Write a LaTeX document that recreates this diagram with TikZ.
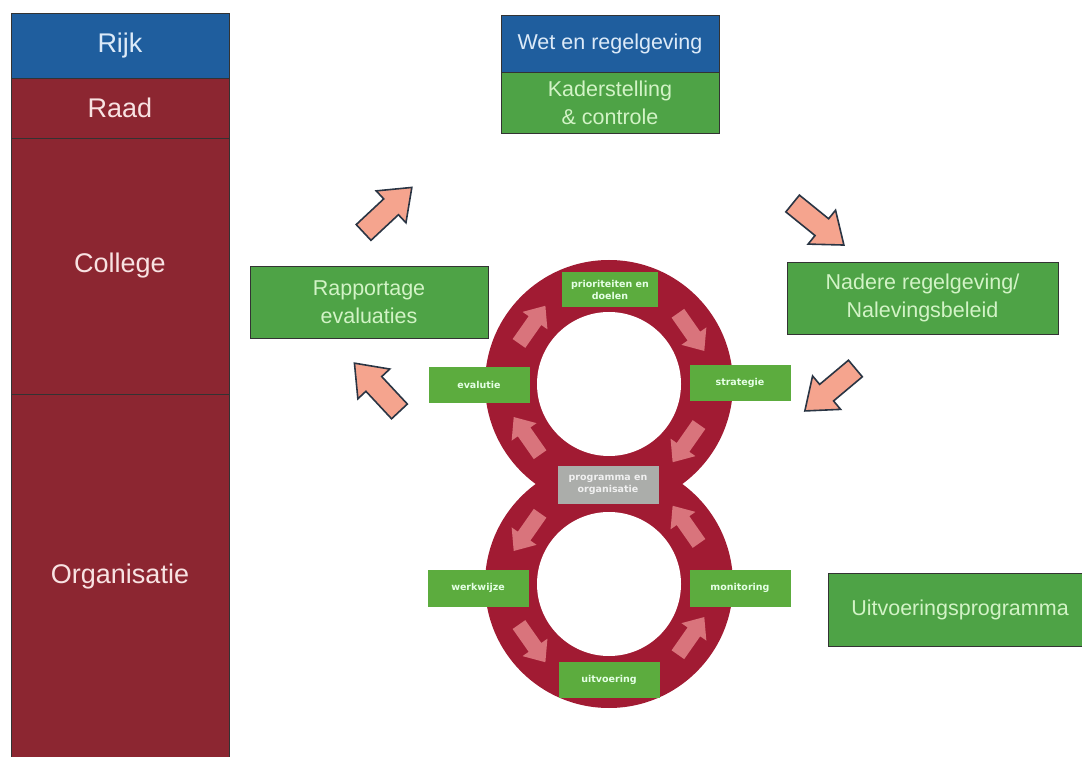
\documentclass[tikz,border=0pt]{standalone}
\usepackage{xcolor}
\usepackage{fontspec}
\setmainfont{Liberation Sans}
\newfontfamily\stepfont{DejaVu Sans}
\usepackage{tikz}
\usetikzlibrary{shapes.arrows, positioning, calc}
\definecolor{rijkblue}{HTML}{1F5E9E}
\definecolor{raadred}{HTML}{8C2631}
\definecolor{ringred}{HTML}{A11B33}
\definecolor{boxgreen}{HTML}{4EA346}
\definecolor{stepgreen}{HTML}{5CAC3E}
\definecolor{paleblue}{HTML}{DCEAF8}
\definecolor{palepink}{HTML}{F8E2E2}
\definecolor{palegreen}{HTML}{D2F3C6}
\definecolor{salmon}{HTML}{F5A48E}
\definecolor{ringpink}{HTML}{D9747C}
\definecolor{proggray}{HTML}{ABADAA}
\definecolor{arrowline}{HTML}{2A3544}
\tikzstyle{level} = [rectangle, minimum width=218pt, inner sep=0pt, outer sep=0pt, text centered, draw=black!80, thick, fill=raadred, text=palepink, font=\fontsize{27}{32}\selectfont]
\tikzstyle{bigbox} = [rectangle, inner sep=0pt, outer sep=0pt, align=center, draw=black!80, thick, fill=boxgreen, text=palegreen, font=\fontsize{21.5}{28}\selectfont]
\tikzstyle{stepbox} = [rectangle, minimum width=101pt, minimum height=36pt, inner sep=0pt, align=center, fill=stepgreen, text=white!90!green, font=\stepfont\bfseries\fontsize{9.5}{12}\selectfont]
\tikzstyle{bigarrow} = [single arrow, draw=arrowline, line width=1.6pt, fill=salmon, minimum height=66pt, inner xsep=0pt, inner ysep=10pt, single arrow head extend=11pt, single arrow tip angle=75, anchor=tail]
\tikzstyle{ringarrow} = [single arrow, fill=ringpink, minimum height=46pt, inner xsep=0pt, inner ysep=7.5pt, single arrow head extend=7.5pt, single arrow tip angle=80]

\begin{document}
\begin{tikzpicture}[x=1pt, y=1pt]
    \useasboundingbox (0,0) rectangle (1082,756);
    \fill[white] (0,0) rectangle (1082,756);

    % levels
    \node (rijk) [level, fill=rijkblue, text=paleblue, minimum height=65pt] at (120,710.5) {Rijk};
    \node (raad) [level, minimum height=60pt, below=0pt of rijk] {Raad};
    \node (college) [level, minimum height=256pt, below=0pt of raad] {College};
    \node (organisatie) [level, minimum height=366pt, below=0pt of college] {Organisatie};

    % boxes
    \node (wet) [bigbox, fill=rijkblue, text=paleblue, minimum width=218pt, minimum height=57pt] at (610,712.5) {Wet en regelgeving};
    \node (kader) [bigbox, minimum width=218pt, minimum height=61pt, below=0pt of wet] {Kaderstelling\\\& controle};
    \node (rapportage) [bigbox, minimum width=238pt, minimum height=72pt] at (369,454) {Rapportage\\evaluaties};
    \node (nadere) [bigbox, minimum width=271pt, minimum height=72pt] at (922.5,458) {Nadere regelgeving/\\Nalevingsbeleid};
    \node (uitvprog) [bigbox, minimum width=264pt, minimum height=73pt] at (960,146.5) {Uitvoeringsprogramma};

    % the eight
    \coordinate (top) at (609,372);
    \coordinate (bot) at (609,172);
    \fill[ringred] (top) circle (124pt) (bot) circle (124pt);
    \fill[white] (top) circle (72pt) (bot) circle (72pt);

    \node (ta) [ringarrow, rotate=55] at ($(top)+(145:97pt)$) {};
    \node (tb) [ringarrow, rotate=-55] at ($(top)+(35:97pt)$) {};
    \node (tc) [ringarrow, rotate=-125] at ($(top)+(-35:97pt)$) {};
    \node (td) [ringarrow, rotate=125] at ($(top)+(-145:97pt)$) {};
    \node (ba) [ringarrow, rotate=235] at ($(bot)+(145:97pt)$) {};
    \node (bb) [ringarrow, rotate=305] at ($(bot)+(215:97pt)$) {};
    \node (bc) [ringarrow, rotate=55] at ($(bot)+(-35:97pt)$) {};
    \node (bd) [ringarrow, rotate=125] at ($(bot)+(35:97pt)$) {};

    \node (prio) [stepbox, minimum width=96pt, minimum height=35pt] at (610,466) {prioriteiten en\\doelen};
    \node (strat) [stepbox] at (740,373) {strategie};
    \node (eval) [stepbox] at (479,371) {evalutie};
    \node (prog) [stepbox, fill=proggray, text=white!88!gray, minimum height=37pt] at (608,271) {programma en\\organisatie};
    \node (werk) [stepbox, minimum height=37pt] at (478,168) {werkwijze};
    \node (monit) [stepbox, minimum height=37pt] at (740,168) {monitoring};
    \node (uitv) [stepbox] at (609,76) {uitvoering};

    % flow arrows
    \node (up) [bigarrow, rotate=43] at (363,523) {};
    \node (back) [bigarrow, rotate=133] at (400,344) {};
    \node (down) [bigarrow, rotate=-39] at (792,553) {};
    \node (into) [bigarrow, rotate=-140] at (856,388) {};
\end{tikzpicture}
\end{document}
